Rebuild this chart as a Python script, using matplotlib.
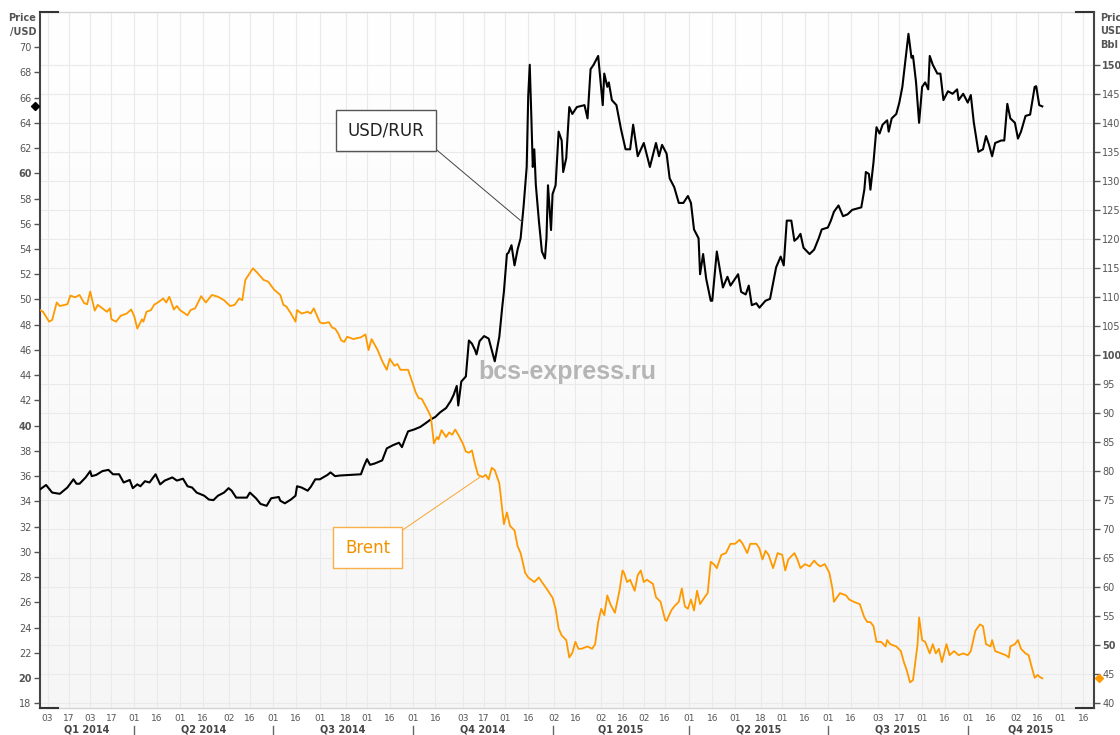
import numpy as np
import pandas as pd
import matplotlib
matplotlib.use('Agg')
import matplotlib.pyplot as plt
import matplotlib.transforms as mtransforms
from matplotlib.colors import LinearSegmentedColormap

# days counted from the first point of the chart
start = pd.Timestamp('2014-01-29')
x_end = pd.Timestamp('2015-12-23')

usd_day = [0, 4, 8, 13, 18, 22, 24, 26, 30, 33, 34, 37, 41, 45, 48, 52, 55, 59, 61, 64,
           66, 69, 72, 76, 79, 82, 87, 90, 94, 97, 100, 103, 108, 111, 114, 117, 121, 124, 126, 129,
           136, 138, 142, 145, 149, 152, 157, 158, 161, 165, 168, 169, 172, 176, 178, 181, 184,
           189, 191, 194, 197, 204, 211, 213, 215, 217, 220, 225, 228, 232, 236, 238, 240, 242, 246, 250, 253,
           257, 260, 263, 267, 270, 272, 274, 275, 277, 280, 282, 284, 286, 287, 289, 292, 295, 297, 299, 302,
           304, 305, 307, 308, 310, 312, 314, 316, 318, 320, 321, 322, 323, 324, 325, 326, 328, 330, 332, 333,
           334, 336, 337, 339, 341, 343, 344, 346, 348, 350, 353, 358, 360, 362, 364, 367,
           370, 371, 373, 374, 376, 379, 382, 385, 388, 390, 393, 397, 401, 405, 407, 409, 412, 414, 417, 420,
           423, 426, 428, 430, 433, 434, 436, 438, 441, 442, 445, 449, 452, 454, 459, 461, 464, 466, 468, 471,
           473, 477, 480, 484, 487, 489, 491, 494, 496, 498, 500, 502, 506, 509, 512, 514, 518, 520, 522, 525,
           528, 531, 534, 540, 542, 543, 545, 546,
           548, 550, 552, 554, 557, 558, 560, 563, 565, 567, 569, 571, 573, 574, 576, 578, 580, 582, 584, 585,
           587, 590, 592, 594, 597, 600, 603, 604, 607, 610, 612, 614, 617, 620, 622, 624, 626, 628, 632, 634,
           636, 638, 641, 643, 645, 648, 651, 654, 655, 657, 659]
usd_val = [34.95, 35.3, 34.7, 34.6, 35.1, 35.75, 35.4, 35.4, 35.9, 36.4, 36.0, 36.1, 36.4, 36.5, 36.15, 36.15, 35.5, 35.7, 35.05, 35.35,
           35.2, 35.6, 35.5, 36.15, 35.35, 35.65, 35.9, 35.65, 35.8, 35.2, 35.1, 34.7, 34.45, 34.15, 34.1, 34.45, 34.7, 35.05, 34.85, 34.3,
           34.3, 34.7, 34.25, 33.8, 33.65, 34.25, 34.35, 34.05, 33.85, 34.15, 34.45, 35.2, 35.1, 34.85, 35.15, 35.75, 35.75,
           36.1, 36.3, 36.0, 36.05, 36.1, 36.15, 36.8, 37.35, 36.9, 37.0, 37.25, 38.2, 38.45, 38.65, 38.3, 38.95, 39.55, 39.7, 39.9, 40.15,
           40.5, 40.7, 41.05, 41.4, 41.95, 42.45, 43.15, 41.6, 43.5, 43.9, 46.75, 46.5, 46.0, 45.65, 46.7, 47.1, 46.9, 46.0, 45.1, 47.05,
           49.5, 50.6, 53.6, 53.7, 54.3, 52.7, 53.95, 54.85, 57.45, 60.5, 66.1, 68.6, 64.7, 60.5, 61.9, 59.1, 56.25, 53.8, 53.25, 54.85,
           59.05, 55.5, 58.35, 59.05, 63.3, 62.6, 60.1, 61.2, 65.25, 64.7, 65.25, 65.4, 64.35, 68.25, 68.6, 69.3,
           65.4, 67.9, 66.85, 67.2, 65.8, 65.4, 63.5, 61.9, 61.9, 63.85, 61.35, 62.4, 60.5, 62.4, 61.35, 62.25, 61.55, 59.6, 58.9, 57.65,
           57.65, 58.2, 57.65, 55.55, 54.85, 52.0, 53.6, 51.65, 49.9, 49.9, 53.8, 50.95, 51.8, 51.1, 52.0, 50.6, 50.4, 51.1, 49.55, 49.7,
           49.35, 49.9, 50.05, 52.55, 53.4, 52.7, 56.25, 56.25, 54.65, 54.85, 55.2, 54.1, 53.6, 53.95, 54.85, 55.55, 55.7, 56.25, 56.95, 57.45,
           56.6, 56.75, 57.1, 57.3, 58.7, 60.1, 59.95, 58.7,
           60.85, 63.65, 63.15, 63.85, 64.2, 63.3, 64.35, 64.7, 65.6, 66.85, 68.95, 71.05, 69.15, 69.3, 67.2, 64.0, 66.85, 67.2, 66.65, 69.3,
           68.6, 67.9, 67.9, 65.8, 66.5, 66.3, 66.65, 65.8, 66.3, 65.6, 66.2, 64.0, 61.7, 61.9, 62.95, 62.25, 61.35, 62.4, 62.6, 62.6,
           65.5, 64.35, 64.0, 62.75, 63.3, 64.55, 64.65, 66.85, 66.9, 65.4, 65.3]

brent_day = [0, 2, 6, 8, 11, 13, 18, 20, 23, 26, 29, 31, 33, 36, 38, 41, 44, 46, 47, 50,
             53, 57, 60, 62, 64, 67, 68, 70, 73, 75, 78, 81, 83, 85, 88, 90, 92, 97, 99, 102,
             106, 109, 113, 117, 121, 125, 128, 131, 133, 135, 137, 140, 143, 147, 150, 154, 158, 160, 162, 165,
             168, 169, 172, 176, 178, 180, 182, 184,
             186, 190, 192, 194, 196, 198, 200, 202, 206, 211, 214, 216, 218, 222, 225, 228, 230, 233, 235, 237,
             242, 245, 247, 249, 251, 255, 257, 259, 261, 262, 264, 267, 269, 271, 273, 275, 278, 280, 282, 284,
             286, 288, 291, 293, 295, 297, 299, 302, 304, 305, 307, 309, 312, 314, 316, 319, 321, 325, 328, 330,
             333, 337, 339, 341, 343, 346, 348, 350, 352, 354, 356, 360, 363, 365, 367,
             369, 371, 373, 375, 378, 381, 383, 384, 386, 388, 391, 393, 395, 397, 399, 403, 405, 408, 411, 412,
             415, 417, 420, 422, 424, 426, 428, 430, 432, 434, 437, 439, 441, 443, 445, 448, 451, 454, 457, 460,
             462, 465, 467, 471, 473, 475, 477, 479, 482, 485, 488, 490, 492, 496, 498, 500, 503, 506, 509, 511,
             513, 516, 519, 521, 522, 526, 530, 532, 535, 539, 542, 544,
             546, 548, 550, 553, 556, 557, 559, 563, 566, 568, 570, 572, 574, 577, 578, 580, 582, 585, 587, 589,
             591, 593, 596, 598, 601, 604, 607, 610, 612, 615, 618, 620, 622, 625, 626, 628, 632, 635, 637, 638,
             641, 643, 645, 648, 650, 652, 654, 656, 657, 659]
brent_val = [107.8, 107.5, 105.8, 106.1, 109.1, 108.5, 108.8, 110.3, 110.0, 110.4, 109.0, 108.8, 111.0, 107.7, 108.7, 108.1, 107.5, 108.1, 106.2, 105.8,
             106.8, 107.2, 107.9, 106.7, 104.6, 106.2, 105.8, 107.5, 107.8, 108.7, 109.2, 109.8, 109.1, 110.1, 107.9, 108.5, 107.8, 106.9, 107.8, 108.1,
             110.2, 109.1, 110.4, 110.1, 109.5, 108.5, 108.7, 109.8, 109.5, 113.0, 113.8, 115.0, 114.2, 113.0, 112.7, 111.3, 110.4, 108.7, 108.4, 107.2,
             105.8, 107.8, 107.2, 107.5, 107.2, 108.1, 106.9, 105.7,
             105.5, 105.7, 104.8, 104.6, 103.8, 102.6, 102.3, 103.2, 102.8, 103.1, 103.6, 100.9, 102.8, 100.9, 99.0, 97.5, 99.4, 98.2, 98.5, 97.5,
             97.5, 95.2, 93.6, 92.6, 92.5, 90.5, 89.4, 84.8, 85.9, 85.5, 87.1, 85.9, 86.7, 86.3, 87.2, 86.3, 84.8, 83.4, 83.2, 83.6,
             81.3, 79.4, 79.0, 79.4, 78.6, 80.6, 80.2, 77.9, 73.2, 70.9, 72.9, 70.6, 69.8, 67.1, 65.9, 62.5, 61.7, 60.9, 61.7, 60.9,
             59.8, 58.2, 56.3, 52.9, 51.7, 50.9, 47.9, 48.7, 50.6, 49.4, 49.4, 49.8, 49.4, 50.2, 54.0,
             56.3, 55.2, 58.6, 57.1, 55.6, 59.4, 62.9, 62.5, 60.9, 61.3, 59.4, 62.1, 62.9, 60.9, 61.3, 60.6, 58.3, 57.5, 54.4, 54.2,
             56.0, 56.7, 57.5, 59.8, 56.7, 56.3, 57.9, 56.0, 59.4, 57.1, 58.3, 59.0, 64.4, 64.0, 63.3, 65.6, 65.9, 67.5, 67.5, 68.2,
             67.5, 65.9, 67.5, 67.5, 66.7, 64.8, 66.3, 65.6, 63.3, 65.9, 65.6, 62.9, 64.8, 65.9, 64.8, 63.3, 64.0, 63.6, 64.6, 64.0,
             63.6, 64.0, 62.5, 59.8, 57.5, 59.0, 58.6, 57.9, 57.5, 57.1, 54.8, 54.0,
             54.0, 53.3, 50.6, 50.6, 49.8, 50.9, 50.2, 49.8, 49.0, 47.1, 45.6, 43.6, 44.0, 50.2, 54.8, 50.9, 50.6, 48.6, 50.2, 48.6,
             49.4, 47.1, 50.2, 48.3, 49.0, 48.3, 48.6, 48.3, 49.0, 52.5, 53.6, 53.3, 50.2, 49.8, 50.9, 49.0, 48.6, 48.3, 47.9, 49.8,
             50.2, 50.9, 49.4, 48.6, 48.3, 46.3, 44.4, 44.9, 44.6, 44.3]

tick_dates = ['2014-02-03', '2014-02-17', '2014-03-03', '2014-03-17', '2014-04-01', '2014-04-16',
              '2014-05-01', '2014-05-16', '2014-06-02', '2014-06-16', '2014-07-01', '2014-07-16',
              '2014-08-01', '2014-08-18', '2014-09-01', '2014-09-16', '2014-10-01', '2014-10-16',
              '2014-11-03', '2014-11-17', '2014-12-01', '2014-12-16', '2015-01-02', '2015-01-16',
              '2015-02-02', '2015-02-16', '2015-03-02', '2015-03-16', '2015-04-01', '2015-04-16',
              '2015-05-01', '2015-05-18', '2015-06-01', '2015-06-16', '2015-07-01', '2015-07-16',
              '2015-08-03', '2015-08-17', '2015-09-01', '2015-09-16', '2015-10-01', '2015-10-16',
              '2015-11-02', '2015-11-16', '2015-12-01', '2015-12-16']
quarter_names = ['Q1 2014', 'Q2 2014', 'Q3 2014', 'Q4 2014', 'Q1 2015', 'Q2 2015', 'Q3 2015', 'Q4 2015']
quarter_bounds = ['2014-04-01', '2014-07-01', '2014-10-01', '2015-01-01', '2015-04-01', '2015-07-01', '2015-10-01']

left_ticks = list(range(18, 71, 2))
left_bold = [20, 40, 60]
right_ticks = list(range(40, 151, 5))
right_bold = [50, 100, 150]

usd_dates = start + pd.to_timedelta(usd_day, unit='D')
brent_dates = start + pd.to_timedelta(brent_day, unit='D')
ticks = pd.to_datetime(tick_dates)

W, H = 1120, 735
rect = [40 / W, (H - 708) / H, 1054 / W, 696 / H]
fig = plt.figure(figsize=(W / 100, H / 100), dpi=100)

# background: soft gradient + grid
bg = fig.add_axes(rect, zorder=0)
cmap = LinearSegmentedColormap.from_list('bg', ['#ffffff', '#f6f6f6'])
bg.imshow(np.linspace(0, 1, 256).reshape(-1, 1), cmap=cmap, aspect='auto',
          extent=[0, 1, 0, 1], transform=bg.transAxes)
bg.set_xlim(start, x_end)
bg.set_ylim(39.19, 159.19)
bg.set_xticks(ticks)
bg.set_yticks(right_ticks)
bg.grid(True, color='#eaeaea', lw=0.8)
bg.tick_params(length=0, labelbottom=False, labelleft=False)
for s in bg.spines.values():
    s.set_visible(False)

ax = fig.add_axes(rect, zorder=1)
ax.patch.set_visible(False)
ax.plot(usd_dates, usd_val, color='#000000', lw=1.5, zorder=3)
ax.set_xlim(start, x_end)
ax.set_ylim(17.63, 72.78)

ax2 = ax.twinx()
ax2.plot(brent_dates, brent_val, color='#ff9900', lw=1.3, zorder=3)
ax2.set_ylim(39.19, 159.19)

# ticks
ax.set_xticks(ticks)
ax.set_xticklabels([t.strftime('%d') for t in ticks])
ax.tick_params(axis='x', length=0, pad=4, labelsize=6.5, labelcolor='#555555')
ax.set_yticks(left_ticks)
ax.set_yticklabels([str(t) for t in left_ticks])
ax.tick_params(axis='y', direction='out', length=4, width=1, color='#555555',
               pad=2, labelsize=7, labelcolor='#555555')
for lbl, t in zip(ax.get_yticklabels(), left_ticks):
    if t in left_bold:
        lbl.set_fontweight('bold')
ax2.set_yticks(right_ticks)
ax2.set_yticklabels([str(t) for t in right_ticks])
ax2.tick_params(axis='y', direction='out', length=4, width=1, color='#555555',
                pad=2, labelsize=7, labelcolor='#555555')
for lbl, t in zip(ax2.get_yticklabels(), right_ticks):
    if t in right_bold:
        lbl.set_fontweight('bold')

# frame
for name in ['top', 'bottom']:
    ax.spines[name].set_color('#d4d4d4')
    ax.spines[name].set_linewidth(1)
ax.spines['left'].set_color('#444444')
ax.spines['left'].set_linewidth(1.5)
ax.spines['right'].set_visible(False)
for name in ['top', 'bottom', 'left']:
    ax2.spines[name].set_visible(False)
ax2.spines['right'].set_color('#444444')
ax2.spines['right'].set_linewidth(1.5)
stub = 18 / 1054
for xs in ([0, stub], [1 - stub, 1]):
    for yv in (0, 1):
        ax.plot(xs, [yv, yv], transform=ax.transAxes, color='#333333', lw=1.5,
                clip_on=False, zorder=5)

# last-value markers on the axes
ax.plot([-5 / 1054], [usd_val[-1]], marker='D', ms=4.5, color='#000000',
        transform=mtransforms.blended_transform_factory(ax.transAxes, ax.transData),
        clip_on=False, zorder=6)
ax2.plot([1 + 5 / 1054], [brent_val[-1]], marker='D', ms=4.5, color='#ff9900',
         transform=mtransforms.blended_transform_factory(ax2.transAxes, ax2.transData),
         clip_on=False, zorder=6)

# quarter row
trans = mtransforms.blended_transform_factory(ax.transData, ax.transAxes)
bounds = [start] + list(pd.to_datetime(quarter_bounds)) + [x_end]
for i, name in enumerate(quarter_names):
    mid = bounds[i] + (bounds[i + 1] - bounds[i]) / 2
    ax.text(mid, -22 / 696, name, transform=trans, ha='center', va='center',
            fontsize=7, fontweight='bold', color='#444444', clip_on=False)
for b in pd.to_datetime(quarter_bounds):
    ax.plot([b, b], [-18 / 696, -27 / 696], transform=trans, color='#666666',
            lw=1, clip_on=False)

# axis captions
fig.text(36 / W, 1 - 18 / H, 'Price', ha='right', va='center', fontsize=7,
         fontweight='bold', color='#555555')
fig.text(36 / W, 1 - 32 / H, '/USD', ha='right', va='center', fontsize=7,
         fontweight='bold', color='#555555')
for k, s in enumerate(['Price', 'USD', 'Bbl']):
    fig.text(1100 / W, 1 - (18 + 13.5 * k) / H, s, ha='left', va='center',
             fontsize=7, fontweight='bold', color='#555555')

# watermark
ax.text(0.5, 0.4828, 'bcs-express.ru', transform=ax.transAxes, ha='center',
        va='center', fontsize=18, fontweight='bold', color='#b5b5b5',
        family='Liberation Sans', zorder=1)

# callouts
usd_at = 317
ax.annotate('USD/RUR', xy=(start + pd.Timedelta(days=usd_at), np.interp(usd_at, usd_day, usd_val)),
            xytext=(0.3283, 0.8297), textcoords='axes fraction', ha='center', va='center',
            fontsize=12, color='#222222', zorder=7,
            bbox=dict(boxstyle='square,pad=0.7', fc='white', ec='#555555', lw=1),
            arrowprops=dict(arrowstyle='-', color='#444444', lw=0.7, relpos=(1, 0),
                            shrinkA=0, shrinkB=0))
brent_at = 290
ax2.annotate('Brent', xy=(start + pd.Timedelta(days=brent_at), np.interp(brent_at, brent_day, brent_val)),
             xytext=(0.3109, 0.2306), textcoords='axes fraction', ha='center', va='center',
             fontsize=12, color='#f39200', zorder=7,
             bbox=dict(boxstyle='square,pad=0.7', fc='white', ec='#f7b04a', lw=1),
             arrowprops=dict(arrowstyle='-', color='#f7a530', lw=0.7, relpos=(1, 1),
                             shrinkA=0, shrinkB=0))

fig.savefig('out.png', dpi=100)
